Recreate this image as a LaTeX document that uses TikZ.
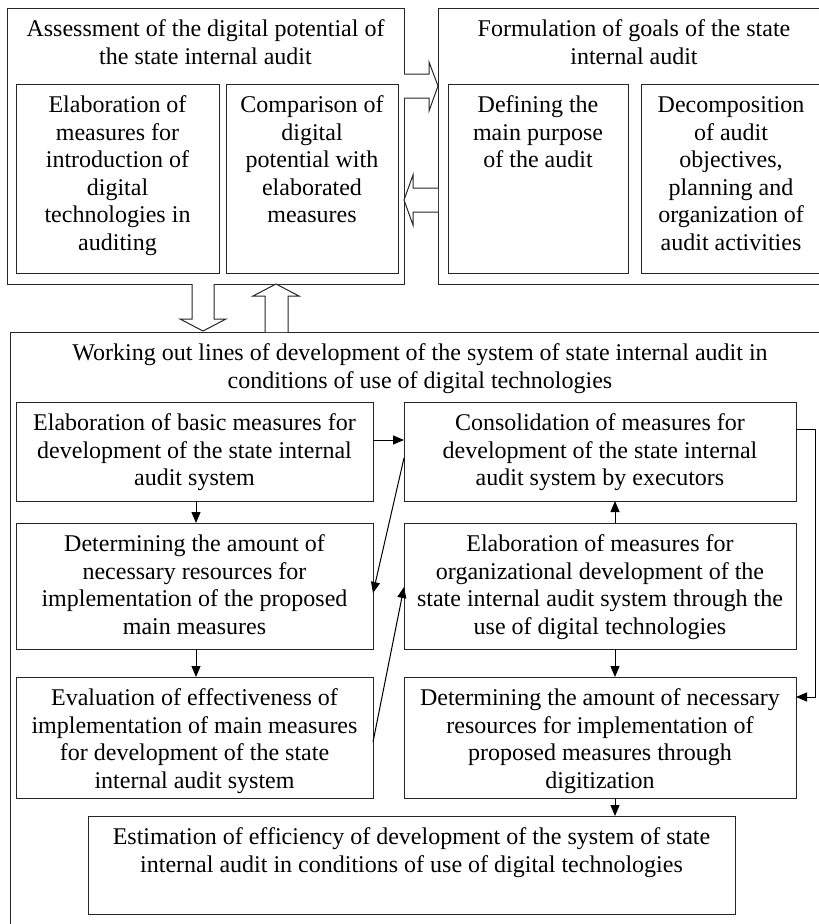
\documentclass[tikz,border=0pt]{standalone}
\usepackage{fontspec}
\setmainfont{Liberation Serif}
\usetikzlibrary{arrows.meta}
\tikzset{
  box/.style={draw=black!85, line width=1pt, fill=white, inner sep=0pt, outer sep=0pt, anchor=north west},
  txt/.style={inner sep=0pt, align=center, anchor=north, font=\fontsize{24}{27.6}\selectfont},
  conn/.style={draw=black, line width=1pt, -{Triangle[length=11pt,width=9pt]}},
  blockarrow/.style={draw=black!85, line width=1pt, fill=white, line join=miter}
}
\begin{document}
\begin{tikzpicture}[x=1pt,y=-1pt]
\useasboundingbox (0,0) rectangle (819,924);
\clip (0,0) rectangle (819,924);
\fill[white] (0,0) rectangle (819,924);

% top-left group
\node[box, minimum width=397pt, minimum height=276pt] (TL) at (7,8) {};
\node[txt] (TLt) at ([yshift=-9pt]TL.north) {\strut Assessment of the digital potential of\\the state internal audit};
\node[box, minimum width=203pt, minimum height=189pt] (TL1) at (16,84) {};
\node[txt] (TL1t) at ([yshift=-9pt]TL1.north) {\strut Elaboration of\\measures for\\introduction of\\digital\\technologies in\\auditing};
\node[box, minimum width=172pt, minimum height=189pt] (TL2) at (226,84) {};
\node[txt] (TL2t) at ([yshift=-9pt]TL2.north) {\strut Comparison of\\digital\\potential with\\elaborated\\measures};

% top-right group
\node[box, minimum width=392pt, minimum height=276pt] (TR) at (438,8) {};
\node[txt] (TRt) at ([yshift=-9pt]TR.north) {\strut Formulation of goals of the state\\internal audit};
\node[box, minimum width=180pt, minimum height=189pt] (TR1) at (448,84) {};
\node[txt] (TR1t) at ([yshift=-9pt]TR1.north) {\strut Defining the\\main purpose\\of the audit};
\node[box, minimum width=180pt, minimum height=189pt] (TR2) at (641,84) {};
\node[txt] (TR2t) at ([yshift=-9pt]TR2.north) {\strut Decomposition\\of audit\\objectives,\\planning and\\organization of\\audit activities};

% block arrows between the top boxes
\draw[blockarrow] (404,74) -- (429,74) -- (429,62) -- (438,86) -- (429,111) -- (429,98) -- (404,98);
\draw[blockarrow] (438,188) -- (413,188) -- (413,175) -- (404,200) -- (413,225) -- (413,212) -- (438,212);

% big bottom box
\node[box, minimum width=820pt, minimum height=603pt] (BIG) at (10,332) {};
\node[txt] (BIGt) at ([yshift=-9pt]BIG.north) {\strut Working out lines of development of the system of state internal audit in\\conditions of use of digital technologies};

% block arrows between top-left and big box
\draw[blockarrow] (192,284) -- (192,319) -- (180,319) -- (203,331) -- (226,319) -- (214,319) -- (214,284);
\draw[blockarrow] (265,332) -- (265,296) -- (253,296) -- (276,284) -- (299,296) -- (288,296) -- (288,332);

% inner boxes
\node[box, minimum width=357pt, minimum height=99pt] (A) at (16,402) {};
\node[txt] (At) at ([yshift=-9pt]A.north) {\strut Elaboration of basic measures for\\development of the state internal\\audit system};
\node[box, minimum width=357pt, minimum height=126pt] (B) at (16,523) {};
\node[txt] (Bt) at ([yshift=-9pt]B.north) {\strut Determining the amount of\\necessary resources for\\implementation of the proposed\\main measures};
\node[box, minimum width=357pt, minimum height=121pt] (C) at (16,677) {};
\node[txt] (Ct) at ([yshift=-9pt]C.north) {\strut Evaluation of effectiveness of\\implementation of main measures\\for development of the state\\internal audit system};
\node[box, minimum width=392pt, minimum height=99pt] (D) at (404,402) {};
\node[txt] (Dt) at ([yshift=-9pt]D.north) {\strut Consolidation of measures for\\development of the state internal\\audit system by executors};
\node[box, minimum width=392pt, minimum height=126pt] (E) at (404,523) {};
\node[txt] (Et) at ([yshift=-9pt]E.north) {\strut Elaboration of measures for\\organizational development of the\\state internal audit system through the\\use of digital technologies};
\node[box, minimum width=392pt, minimum height=121pt] (F) at (404,677) {};
\node[txt] (Ft) at ([yshift=-9pt]F.north) {\strut Determining the amount of necessary\\resources for implementation of\\proposed measures through\\digitization};
\node[box, minimum width=647pt, minimum height=98pt] (G) at (88,816) {};
\node[txt] (Gt) at ([yshift=-9pt]G.north) {\strut Estimation of efficiency of development of the system of state\\internal audit in conditions of use of digital technologies};

% connectors
\coordinate (Aout) at (A.east |- 0,440);
\draw[conn] (Aout) -- (D.west |- Aout);
\draw[conn] (A.south -| 196,0) -- (B.north -| 196,0);
\draw[conn] (B.south -| 196,0) -- (C.north -| 196,0);
\draw[conn] (D.west |- 0,458) -- (B.east |- 0,593);
\draw[conn] (C.east |- 0,742) -- (E.west |- 0,587);
\draw[conn] (E.north -| 615,0) -- (D.south -| 615,0);
\draw[conn] (E.south -| 615,0) -- (F.north -| 615,0);
\draw[conn] (F.south -| 615,0) -- (G.north -| 615,0);
\coordinate (Dr) at (D.east |- 0,429);
\coordinate (Fr) at (F.east |- 0,697);
\draw[conn] (Dr) -- (815,429) -- (815,697) -- (Fr);
\end{tikzpicture}
\end{document}
